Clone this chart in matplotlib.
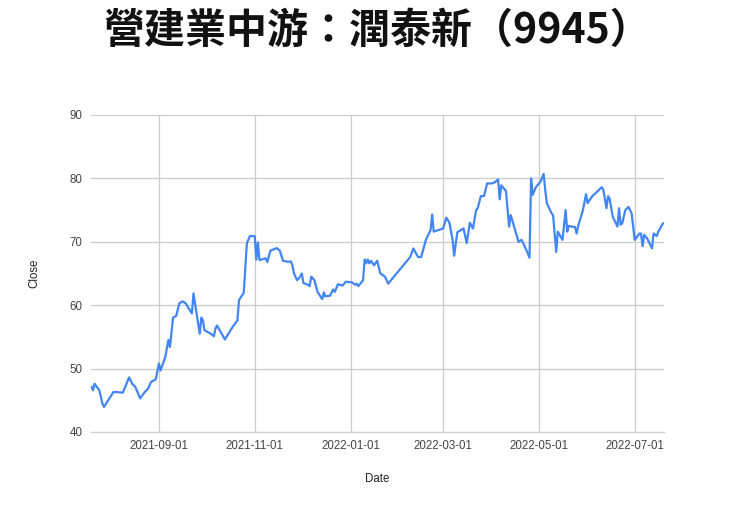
import matplotlib
matplotlib.use("Agg")
import matplotlib.pyplot as plt
import matplotlib.dates as mdates
import pandas as pd

# 潤泰新 (9945) closing prices
dates_2021 = [
    "07-20", "07-21", "07-22", "07-25", "07-27", "07-28", "08-03", "08-05",
    "08-09", "08-13", "08-15", "08-17", "08-20", "08-23", "08-25", "08-27",
    "08-30", "09-01", "09-02", "09-05", "09-07", "09-08", "09-10", "09-12",
    "09-14", "09-16", "09-18", "09-22", "09-23", "09-25", "09-27", "09-28",
    "09-29", "09-30", "10-04", "10-06", "10-07", "10-08", "10-13", "10-18",
    "10-21", "10-22", "10-25", "10-27", "10-29", "11-01", "11-02", "11-03",
    "11-04", "11-08", "11-09", "11-11", "11-15", "11-17", "11-19", "11-22",
    "11-24", "11-25", "11-26", "11-28", "11-30", "12-01", "12-02", "12-05",
    "12-06", "12-07", "12-09", "12-11", "12-14", "12-15", "12-16", "12-19",
    "12-21", "12-22", "12-24", "12-27", "12-29",
]
close_2021 = [
    47.1, 46.6, 47.6, 46.6, 44.5, 43.95, 46.3, 46.3,
    46.2, 48.6, 47.6, 47.1, 45.3, 46.3, 46.8, 47.9,
    48.3, 50.8, 49.7, 51.8, 54.5, 53.4, 58.05, 58.3,
    60.3, 60.6, 60.3, 58.7, 61.85, 58.7, 55.5, 58.05,
    57.6, 56.05, 55.5, 55.1, 56.3, 56.8, 54.6, 56.6,
    57.6, 60.8, 61.95, 69.8, 70.9, 70.9, 67.2, 69.9,
    67.1, 67.4, 66.8, 68.6, 69.0, 68.6, 67.0, 66.85,
    66.9, 66.3, 65.0, 63.95, 64.5, 65.0, 63.5, 63.2,
    63.0, 64.5, 63.95, 62.1, 60.95, 62.0, 61.4, 61.5,
    62.5, 62.1, 63.3, 63.1, 63.7,
]
dates_2022 = [
    "01-02", "01-04", "01-05", "01-06", "01-09", "01-10", "01-11", "01-12",
    "01-13", "01-14", "01-16", "01-18", "01-20", "01-23", "01-25", "02-06",
    "02-08", "02-10", "02-13", "02-15", "02-18", "02-21", "02-22", "02-23",
    "03-01", "03-03", "03-05", "03-07", "03-08", "03-10", "03-14", "03-16",
    "03-18", "03-20", "03-22", "03-23", "03-25", "03-27", "03-29", "04-01",
    "04-03", "04-05", "04-06", "04-07", "04-10", "04-12", "04-13", "04-14",
    "04-18", "04-20", "04-23", "04-25", "04-26", "04-27", "04-29", "05-02",
    "05-04", "05-05", "05-06", "05-09", "05-10", "05-12", "05-13", "05-16",
    "05-18", "05-19", "05-20", "05-24", "05-25", "05-26", "05-29", "05-31",
    "06-01", "06-04", "06-10", "06-11", "06-13", "06-14", "06-15", "06-17",
    "06-20", "06-21", "06-22", "06-23", "06-25", "06-27", "06-29", "07-01",
    "07-04", "07-05", "07-06", "07-07", "07-09", "07-12", "07-13", "07-15",
    "07-16", "07-19",
]
close_2022 = [
    63.6, 63.2, 63.4, 63.0, 63.95, 67.2, 66.6, 67.2,
    66.6, 67.0, 66.3, 67.0, 65.0, 64.5, 63.4, 67.0,
    67.6, 68.95, 67.6, 67.6, 70.3, 71.85, 74.3, 71.6,
    72.1, 73.8, 73.0, 70.3, 67.8, 71.5, 72.1, 69.8,
    73.0, 72.1, 75.0, 75.3, 77.2, 77.2, 79.2, 79.2,
    79.4, 79.85, 76.7, 78.9, 78.0, 72.4, 74.2, 73.4,
    70.0, 70.3, 68.7, 67.5, 80.0, 77.4, 78.6, 79.5,
    80.7, 78.2, 76.1, 74.5, 74.2, 68.4, 71.6, 70.3,
    75.0, 71.6, 72.5, 72.3, 71.3, 72.5, 75.0, 77.5,
    76.1, 77.2, 78.6, 78.2, 75.3, 77.2, 76.8, 73.95,
    72.4, 75.3, 72.7, 72.9, 75.0, 75.5, 74.5, 70.3,
    71.3, 71.3, 69.3, 71.1, 70.5, 68.95, 71.3, 70.9,
    71.6, 72.9,
]

y_ticks = [40, 50, 60, 70, 80, 90]
x_ticks = ["2021-09-01", "2021-11-01", "2022-01-01", "2022-03-01", "2022-05-01", "2022-07-01"]

dates = pd.to_datetime(["2021-" + d for d in dates_2021] + ["2022-" + d for d in dates_2022])
close = close_2021 + close_2022

fig = plt.figure(figsize=(7.4, 5.05), dpi=100)
ax = fig.add_axes([0.123, 0.1446, 0.774, 0.6277])

ax.plot(dates, close, color="#4285f4", linewidth=1.6, solid_joinstyle="round")

ax.set_ylim(40, 90)
ax.set_yticks(y_ticks)
ax.set_xlim(pd.Timestamp("2021-07-19 18:00"), pd.Timestamp("2022-07-19 12:00"))
ax.set_xticks(pd.to_datetime(x_ticks))
ax.xaxis.set_major_formatter(mdates.DateFormatter("%Y-%m-%d"))

ax.grid(True, color="#cccccc", linewidth=0.9)
ax.set_axisbelow(True)
for s in ax.spines.values():
    s.set_visible(False)
# baseline at 40 (gridline at the edge gets clipped)
ax.spines["bottom"].set_visible(True)
ax.spines["bottom"].set_color("#cccccc")
ax.spines["bottom"].set_linewidth(0.9)
ax.tick_params(length=0, labelsize=8.3, labelcolor="#444444", pad=6)
for lab in ax.get_xticklabels() + ax.get_yticklabels():
    lab.set_fontfamily("Liberation Sans")

ax.set_xlabel("Date", fontsize=8.3, color="#222222", family="Liberation Sans", labelpad=15)
ax.set_ylabel("Close", fontsize=8.3, color="#222222", family="Liberation Sans", labelpad=21)

fig.text(0.51, 0.938, "營建業中游：潤泰新（9945）", ha="center", va="center",
         fontsize=29.5, fontweight="bold", color="#111111",
         family=["Noto Sans CJK TC", "DejaVu Sans"])

fig.savefig("out.png", dpi=100, facecolor="white")
